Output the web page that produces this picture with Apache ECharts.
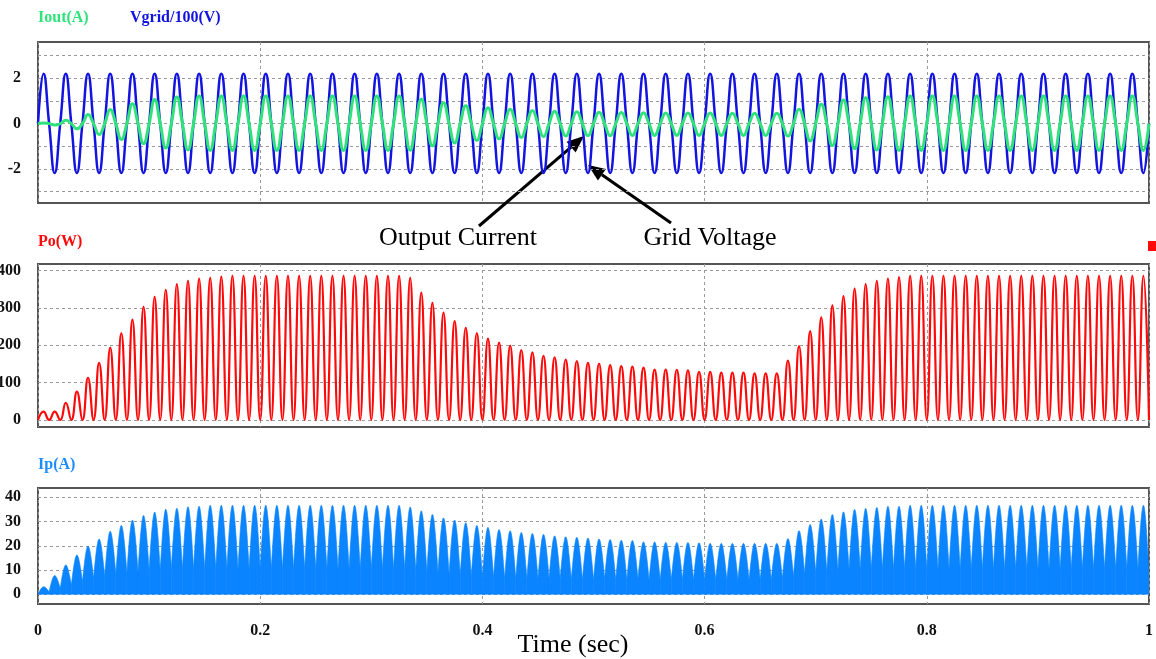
<!DOCTYPE html>
<html><head><meta charset="utf-8">
<script src="https://cdn.jsdelivr.net/npm/echarts@6/dist/echarts.min.js"></script>
<style>html,body{margin:0;padding:0;background:#fff}#c{width:1156px;height:659px}</style>
</head><body><div id="c"></div><script>
// ---- data (one value per half-cycle of the 50 Hz grid) ----
const HALF_CYCLE = 0.01;            // s between successive crossings
const timeTicks = [0, 0.2, 0.4, 0.6, 0.8, 1];
const topTicks = [-3, -2, -1, 0, 1, 2, 3];
const topLabels = [-2, 0, 2];
const poTicks = [0, 100, 200, 300, 400];
const ipTicks = [0, 10, 20, 30, 40];

// Vgrid/100 (V): extreme of each half-cycle
const vgridPeaks = [
 2.2,-2.18,2.2,-2.18,2.2,-2.18,2.2,-2.18,2.2,-2.18,
 2.2,-2.18,2.2,-2.18,2.2,-2.18,2.2,-2.18,2.2,-2.18,
 2.2,-2.18,2.2,-2.18,2.2,-2.18,2.2,-2.18,2.2,-2.18,
 2.2,-2.18,2.2,-2.18,2.2,-2.18,2.2,-2.18,2.2,-2.18,
 2.2,-2.18,2.2,-2.18,2.2,-2.18,2.2,-2.18,2.2,-2.18,
 2.2,-2.18,2.2,-2.18,2.2,-2.18,2.2,-2.18,2.2,-2.18,
 2.2,-2.18,2.2,-2.18,2.2,-2.18,2.2,-2.18,2.2,-2.18,
 2.2,-2.18,2.2,-2.18,2.2,-2.18,2.2,-2.18,2.2,-2.18,
 2.2,-2.18,2.2,-2.18,2.2,-2.18,2.2,-2.18,2.2,-2.18,
 2.2,-2.18,2.2,-2.18,2.2,-2.18,2.2,-2.18,2.2,-2.18
];
// Iout (A): extreme of each half-cycle
const ioutPeaks = [
 0.03,-0.06,0.15,-0.23,0.4,-0.48,0.62,-0.7,0.88,-0.88,
 1.06,-1.07,1.18,-1.16,1.22,-1.18,1.22,-1.18,1.22,-1.18,
 1.22,-1.18,1.22,-1.18,1.22,-1.18,1.22,-1.18,1.22,-1.18,
 1.22,-1.18,1.22,-1.17,1.08,-0.98,0.92,-0.85,0.79,-0.74,
 0.7,-0.67,0.63,-0.61,0.58,-0.57,0.55,-0.55,0.52,-0.53,
 0.5,-0.53,0.49,-0.52,0.48,-0.52,0.47,-0.52,0.47,-0.52,
 0.47,-0.52,0.46,-0.52,0.46,-0.52,0.46,-0.55,0.63,-0.76,
 0.86,-0.96,1.04,-1.1,1.14,-1.16,1.19,-1.18,1.22,-1.18,
 1.22,-1.18,1.22,-1.18,1.22,-1.18,1.22,-1.18,1.22,-1.18,
 1.22,-1.18,1.22,-1.18,1.22,-1.18,1.22,-1.18,1.22,-1.18
];
// Po (W): peak of each 100 Hz power pulse
const poPeaks = [
 22,22,46,76,113,153,194,233,269,303,
 330,349,364,373,379,381,384,386,386,386,
 386,386,386,386,386,386,386,386,386,386,
 386,386,386,381,341,314,288,265,247,233,
 218,207,199,187,181,172,168,162,158,153,
 150,147,144,143,140,135,135,134,133,129,
 129,127,127,127,125,125,125,159,198,238,
 275,307,332,352,364,373,379,383,386,386,
 386,386,386,386,386,386,386,386,386,386,
 386,386,386,386,386,386,386,386,386,386
];
// Ip (A): top of each current hump
const ipPeaks = [
 3.1,7.7,12.1,16.2,19.9,22.8,26,28.4,30.6,32.5,
 33.9,35.1,35.5,36.1,36.3,36.7,36.7,36.7,36.7,36.7,
 36.7,36.7,36.7,36.7,36.7,36.7,36.7,36.7,36.7,36.7,
 36.7,36.7,36.7,36,34.4,32.9,31.5,30.6,29.5,28.4,
 27.6,26.7,26.2,25.5,25.1,24.7,24.1,23.7,23.5,23.2,
 22.8,22.6,22.3,22.2,21.6,21.6,21.4,21.4,21.4,21.2,
 21,21,21,21,21,21,21,23,26.2,28.8,
 31,32.9,34,35,35.4,35.8,36.3,36.3,36.7,36.7,
 36.7,36.7,36.7,36.7,36.7,36.7,36.7,36.7,36.7,36.7,
 36.7,36.7,36.7,36.7,36.7,36.7,36.7,36.7,36.7,36.7
];
// Ip (A): dip between humps (at each crossing)
const ipValleys = [
 0,1,2.5,3.8,5.2,6.7,7.5,8.4,9,9.5,
 10,10,10.5,10.5,10.5,10.5,10.5,10.5,10.5,10.5,
 10.5,10.5,10.5,10.5,10.5,10.5,10.5,10.5,10.5,10.5,
 10.5,10.5,10.5,10.5,10,9.5,9,8.5,8,7.5,
 7,7,6.5,6.5,6.5,6.5,6.5,6.5,6,6,
 6,6.5,6,6,6.5,6,6,6,6,6,
 6,6,6,6,6,6,6,6.5,7.5,8.5,
 9,9.5,10,10.5,10.5,10.5,10.5,10.5,10.5,10.5,
 10.5,10.5,10.5,10.5,10.5,10.5,10.5,10.5,10.5,10.5,
 10.5,10.5,10.5,10.5,10.5,10.5,10.5,10.5,10.5,10.5,
 8
];
// value of the wave at every crossing (Vgrid, Iout and Po all pass through zero there)
const zeroAtCrossing = 0;

// ---- build series (crossing, extreme, crossing, ...) ----
function wave(peaks, cross) {
  const out = [];
  for (let k = 0; k <= peaks.length; k++) {
    const c = Array.isArray(cross) ? cross[k] : cross;
    out.push([+(k * HALF_CYCLE).toFixed(4), c]);
    if (k < peaks.length) out.push([+(k * HALF_CYCLE + HALF_CYCLE / 2).toFixed(4), peaks[k]]);
  }
  return out;
}
// one item per Ip hump: [tStart, tEnd, valleyStart, peak, valleyEnd]
function humps(peaks, valleys) {
  return peaks.map((p, k) => [+(k * HALF_CYCLE).toFixed(4), +((k + 1) * HALF_CYCLE).toFixed(4), valleys[k], p, valleys[k + 1]]);
}

const SERIF = 'Liberation Serif';
const gridLine = { show: true, lineStyle: { color: '#9a9a9a', type: [3, 3], width: 1 } };
const labelStyle = { fontFamily: SERIF, fontWeight: 'bold', fontSize: 16, color: '#111' };
const G = { left: 38, right: 7, show: true, borderColor: '#555', borderWidth: 2, containLabel: false, outerBoundsMode: 'none' };

function xAxis(i, showLabels) {
  return {
    type: 'value', gridIndex: i, min: 0, max: 1, interval: 0.2,
    axisLine: { show: false }, axisTick: { show: false },
    splitLine: gridLine,
    axisLabel: Object.assign({ show: showLabels, margin: 19, formatter: v => String(+v.toFixed(1)) }, labelStyle)
  };
}
function yAxis(i, min, max, ticks, labels) {
  return {
    type: 'value', gridIndex: i, min: min, max: max,
    axisLine: { show: false },
    axisTick: { show: false, customValues: ticks },
    splitLine: gridLine,
    axisLabel: Object.assign({ customValues: labels, margin: 17 }, labelStyle)
  };
}

// rounded hump (quarter-sine-like cubic on each side) drawn through the axis scales
function bez(p0, p1, p2, p3, s) {
  const u = 1 - s;
  return [u*u*u*p0[0] + 3*u*u*s*p1[0] + 3*u*s*s*p2[0] + s*s*s*p3[0],
          u*u*u*p0[1] + 3*u*u*s*p1[1] + 3*u*s*s*p2[1] + s*s*s*p3[1]];
}
function renderHump(params, api) {
  const t0 = api.value(0), t1 = api.value(1), v0 = api.value(2), p = api.value(3), v1 = api.value(4);
  const tm = (t0 + t1) / 2, h = tm - t0;
  const A = api.coord([t0, v0]), M = api.coord([tm, p]), B = api.coord([t1, v1]);
  const L1 = api.coord([t0 + 0.33 * h, v0 + 0.52 * (p - v0)]), L2 = api.coord([t0 + 0.67 * h, p]);
  const R1 = api.coord([tm + 0.33 * h, p]), R2 = api.coord([tm + 0.67 * h, v1 + 0.52 * (p - v1)]);
  const pts = [api.coord([t0, 0]), A];
  const N = 10;
  for (let i = 1; i <= N; i++) pts.push(bez(A, L1, L2, M, i / N));
  for (let i = 1; i <= N; i++) pts.push(bez(M, R1, R2, B, i / N));
  pts.push(api.coord([t1, 0]));
  return { type: 'polygon', shape: { points: pts }, style: { fill: '#0a84ff', stroke: '#0a84ff', lineWidth: 0.6 } };
}

function arrow(x1, y1, x2, y2) {
  const L = 17, W = 7;
  const dx = x2 - x1, dy = y2 - y1, len = Math.hypot(dx, dy);
  const ux = dx / len, uy = dy / len;
  const bx = x2 - ux * L, by = y2 - uy * L;
  return [
    { type: 'line', shape: { x1, y1, x2: bx, y2: by }, style: { stroke: '#000', lineWidth: 3 } },
    { type: 'polygon', shape: { points: [[x2, y2], [bx - uy * W, by + ux * W], [bx + uy * W, by - ux * W]] }, style: { fill: '#000' } }
  ];
}

const chart = echarts.init(document.getElementById('c'), null, { renderer: 'canvas' });
chart.setOption({
  animation: false,
  backgroundColor: '#fff',
  grid: [
    Object.assign({ top: 42, height: 161 }, G),
    Object.assign({ top: 264, height: 163 }, G),
    Object.assign({ top: 488, height: 116 }, G)
  ],
  xAxis: [xAxis(0, false), xAxis(1, false), xAxis(2, true)],
  yAxis: [
    yAxis(0, -3.5, 3.6, topTicks, topLabels),
    yAxis(1, -19, 418, poTicks, poTicks),
    yAxis(2, -4, 43.8, ipTicks, ipTicks)
  ],
  series: [
    { name: 'Vgrid/100(V)', type: 'line', xAxisIndex: 0, yAxisIndex: 0, data: wave(vgridPeaks, zeroAtCrossing),
      smooth: 0.5, symbol: 'none', lineStyle: { color: '#1414e0', width: 2.5 }, z: 2 },
    { name: 'Iout(A)', type: 'line', xAxisIndex: 0, yAxisIndex: 0, data: wave(ioutPeaks, zeroAtCrossing),
      smooth: 0.5, symbol: 'none', lineStyle: { color: '#2fe27a', width: 3 }, z: 3 },
    { name: 'Po(W)', type: 'line', xAxisIndex: 1, yAxisIndex: 1, data: wave(poPeaks, zeroAtCrossing),
      smooth: 0.5, symbol: 'none', lineStyle: { color: '#ff0a0a', width: 2.2 }, z: 2 },
    { name: 'Ip(A)', type: 'custom', xAxisIndex: 2, yAxisIndex: 2, data: humps(ipPeaks, ipValleys),
      encode: { x: [0, 1], y: [2, 3, 4] }, renderItem: renderHump, clip: true, z: 2 }
  ],
  graphic: [
    { type: 'text', left: 38, top: 10, style: { text: 'Iout(A)', font: 'bold 16px "Liberation Serif"', fill: '#2fe27a' } },
    { type: 'text', left: 130, top: 10, style: { text: 'Vgrid/100(V)', font: 'bold 16px "Liberation Serif"', fill: '#1414e0' } },
    { type: 'text', left: 38, top: 234, style: { text: 'Po(W)', font: 'bold 16px "Liberation Serif"', fill: '#ff0a0a' } },
    { type: 'text', left: 38, top: 457, style: { text: 'Ip(A)', font: 'bold 16px "Liberation Serif"', fill: '#1e8cff' } },
    { type: 'rect', shape: { x: 1148, y: 241, width: 8, height: 10 }, style: { fill: '#ff0a0a' } },
    { type: 'text', x: 458, y: 238, style: { text: 'Output Current', font: '26px "Liberation Serif"', fill: '#000', align: 'center', verticalAlign: 'middle' } },
    { type: 'text', x: 710, y: 238, style: { text: 'Grid Voltage', font: '26px "Liberation Serif"', fill: '#000', align: 'center', verticalAlign: 'middle' } },
    { type: 'text', x: 573, y: 645, style: { text: 'Time (sec)', font: '26px "Liberation Serif"', fill: '#000', align: 'center', verticalAlign: 'middle' } }
  ].concat(arrow(479, 226, 584, 136), arrow(671, 223, 588, 165))
});
</script></body></html>
